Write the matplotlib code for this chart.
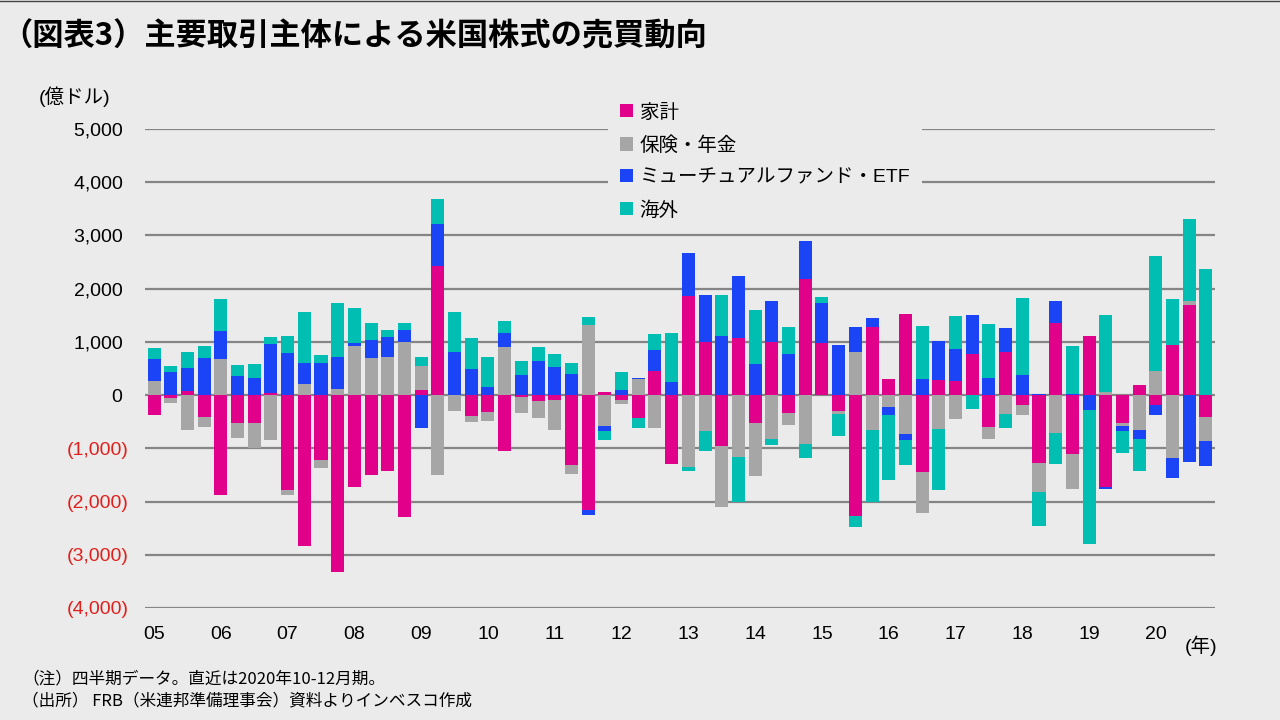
import numpy as np
import matplotlib
matplotlib.use('Agg')
import matplotlib.pyplot as plt
from matplotlib.lines import Line2D
from matplotlib.patches import Patch

plt.rcParams['font.family'] = ['Liberation Sans', 'Noto Sans CJK JP', 'DejaVu Sans']

# quarterly net purchases of US equities, 2005Q1 - 2020Q4 (100 mn USD)
years = ['05', '06', '07', '08', '09', '10', '11', '12',
         '13', '14', '15', '16', '17', '18', '19', '20']

household = [-383, -60, 75, -420, -1870, -515, -533, 38,
             -1775, -2830, -1211, -3330, -1730, -1493, -1430, -2296,
             100, 2434, 0, -389, -320, -1041, -38, -113,
             -100, -1305, -2152, 63, -94, -439, 458, -1286,
             1853, 994, -956, 1082, -517, 1006, -329, 2191,
             987, -292, -2266, 1288, 310, 1533, -1439, 292,
             272, 780, -592, 817, -178, -1268, 1362, -1099,
             1118, -1719, -517, 197, -178, 949, 1700, -404]

insurance = [257, -94, -660, -170, 684, -295, -464, -847,
             -94, 213, -150, 119, 916, 690, 709, 991,
             452, -1506, -301, -107, -170, 910, -301, -320,
             -558, -182, 1324, -577, -75, 307, -627, 0,
             -1345, -668, -1154, -1169, -997, -818, -226, -912,
             0, -56, 818, -649, -216, -724, -784, -630,
             -441, 0, -225, -348, -188, -545, -704, -657,
             0, 66, -56, -648, 460, -1174, 75, -451]

funds = [414, 440, 440, 703, 527, 364, 326, 928,
         797, 395, 608, 590, 56, 339, 376, 226,
         -627, 790, 816, 496, 157, 263, 383, 646,
         533, 401, -107, -88, 100, 20, 395, 251,
         809, 878, 1119, 1147, 592, 771, 781, 696,
         752, 950, 470, 169, -150, -113, 310, 734,
         601, 733, 329, 451, 385, 28, 413, 30,
         -272, -38, -94, -169, -188, -376, -1249, -470]

foreign = [207, 113, 300, 226, 602, 207, 263, 132,
           320, 960, 150, 1016, 659, 320, 132, 132,
           170, 452, 753, 583, 565, 226, 263, 263,
           245, 207, 150, -170, 339, -188, 301, 922,
           -75, -389, 771, -846, 1016, -113, 508, -263,
           113, -414, -219, -1367, -1235, -470, 997, -1160,
           620, -254, 1014, -263, 1446, -639, -582, 902,
           -2517, 1446, -413, -601, 2160, 864, 1540, 2376]

series = [('家計', household, '#e0008a'),
          ('保険・年金', insurance, '#a6a6a6'),
          ('ミューチュアルファンド・ETF', funds, '#1b44f7'),
          ('海外', foreign, '#00bfb2')]

bg = '#ebebeb'
fig = plt.figure(figsize=(12.8, 7.2), dpi=100)
fig.patch.set_facecolor(bg)
ax = fig.add_axes([145/1280, 1-608/720, (1215-145)/1280, (608-129)/720])
ax.set_facecolor('none')

x = np.arange(len(household))
pos = np.zeros(len(x))
neg = np.zeros(len(x))
handles = []
for name, vals, col in series:
    v = np.array(vals, dtype=float)
    b = np.where(v >= 0, pos, neg)
    ax.bar(x, v, bottom=b, width=0.78, color=col, linewidth=0, zorder=2)
    pos += np.where(v >= 0, v, 0)
    neg += np.where(v < 0, v, 0)
    handles.append(Patch(facecolor=col, label=name))

ax.set_xlim(-0.54, 63.54)
ax.set_ylim(-4000, 5000)
yt = list(range(-4000, 5001, 1000))
ax.set_yticks(yt)
ax.set_yticklabels([f'{v:,} ' if v >= 0 else f'({-v:,})' for v in yt], fontsize=14)
for lab, v in zip(ax.get_yticklabels(), yt):
    if v < 0:
        lab.set_color('#e0201b')
ax.set_xticks(x[::4])
ax.set_xticklabels(years, fontsize=14)
ax.tick_params(axis='both', length=0)
ax.tick_params(axis='y', pad=12)
ax.tick_params(axis='x', pad=13)
ax.yaxis.grid(True, color='#858585', linewidth=1.6, zorder=0)
ax.set_axisbelow(True)
for s in ax.spines.values():
    s.set_visible(False)

leg = fig.legend(handles=handles, loc='upper left', bbox_to_anchor=(608/1280, 1-92/720),
                 fontsize=14, frameon=True, facecolor=bg, edgecolor='none', framealpha=1,
                 handlelength=0.67, handleheight=0.67, handletextpad=0.36, labelspacing=0.74,
                 borderpad=0.6, borderaxespad=0, fancybox=False)
leg.set_zorder(5)

fig.text(1/1280, 1-37/720, '（図表3）主要取引主体による米国株式の売買動向',
         fontsize=22.5, fontweight='bold', family=['Noto Sans CJK JP'], va='center', ha='left')
fig.text(75/1280, 1-97/720, '(億ドル)', fontsize=14, ha='center', va='center')
fig.text(1201/1280, 1-646/720, '(年)', fontsize=14, ha='center', va='center')
fig.text(22/1280, 1-679/720, '（注）四半期データ。直近は2020年10-12月期。', fontsize=12,
         family=['Noto Sans CJK JP'], ha='left', va='center')
fig.text(22/1280, 1-701/720, '（出所） FRB（米連邦準備理事会）資料よりインベスコ作成', fontsize=12,
         family=['Noto Sans CJK JP'], ha='left', va='center')
fig.add_artist(Line2D([0, 1], [0.9985, 0.9985], color='#444444', linewidth=1))

fig.savefig('out.png', dpi=100, facecolor=bg)
